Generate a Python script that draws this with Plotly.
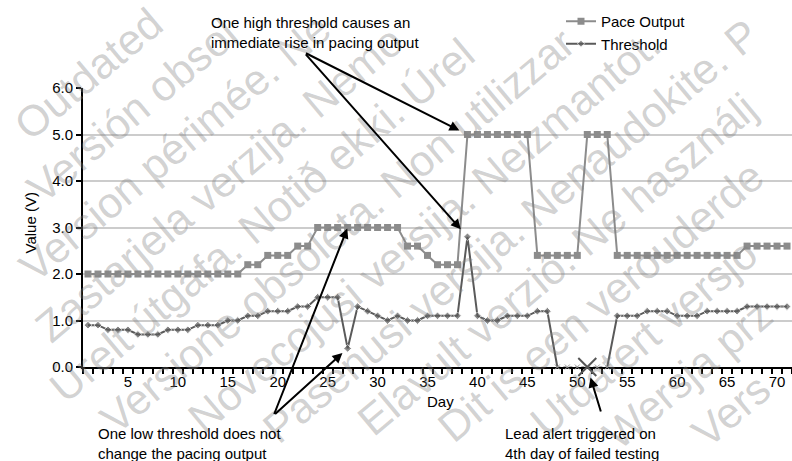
import math
import plotly.graph_objects as go

# days 1..71
days = list(range(1, 72))

pace_output = ([2.0] * 16 + [2.2] * 2 + [2.4] * 3 + [2.6] * 2 + [3.0] * 9 +
               [2.6] * 2 + [2.4] + [2.2] * 3 + [5.0] * 7 + [2.4] * 5 +
               [5.0] * 3 + [2.4] * 13 + [2.6] * 5)

threshold = [0.9, 0.9, 0.8, 0.8, 0.8, 0.7, 0.7, 0.7, 0.8, 0.8,
             0.8, 0.9, 0.9, 0.9, 1.0, 1.0, 1.1, 1.1, 1.2, 1.2,
             1.2, 1.3, 1.3, 1.5, 1.5, 1.5, 0.4, 1.3, 1.2, 1.1,
             1.0, 1.1, 1.0, 1.0, 1.1, 1.1, 1.1, 1.1, 2.8, 1.1,
             1.0, 1.0, 1.1, 1.1, 1.1, 1.2, 1.2, 0.0, 0.0, 0.0,
             0.0, 0.0, 0.0, 1.1, 1.1, 1.1, 1.2, 1.2, 1.2, 1.1,
             1.1, 1.1, 1.2, 1.2, 1.2, 1.2, 1.3, 1.3, 1.3, 1.3,
             1.3]

watermark_lines = [
    "Παλιά έκδοση. Μην την χρησιμοποιείτε.",
    "Outdated version. Do not use.",
    "Versión obsoleta. No utilizar.",
    "Version périmée. Ne pas utiliser.",
    "Zastarjela verzija. Nemojte upotrebljavati.",
    "Úrelt útgáfa. Notið ekki.",
    "Versione obsoleta. Non utilizzare.",
    "Novecojusi versija. Neizmantot.",
    "Pasenusi versija. Nenaudokite.",
    "Elavult verzió. Ne használja!",
    "Dit is een verouderde versie. Niet gebruiken.",
    "Utdatert versjon. Skal ikke brukes.",
    "Wersja przeterminowana. Nie używać.",
    "Versão obsoleta. Não utilize.",
    "Versiune expirată. A nu se utiliza.",
    "Zastaraná verzia. Nepoužívať.",
]

W, H = 792, 461
L, R, T, B = 83, 0, 88, 94
PW, PH = W - L - R, H - T - B
FONT = "Liberation Sans, Arial, sans-serif"
WM_SIZE = 43


def px(x, y):
    # pixel position -> paper coordinates
    return (x - L) / PW, (H - B - y) / PH


failed_days = [d for d, v in zip(days, threshold) if v == 0]
alert_day = failed_days[3]
thr_line = [None if (d in failed_days and d not in (failed_days[0], failed_days[-1])) else v
            for d, v in zip(days, threshold)]
thr_sizes = [0 if v == 0 else 6 for v in threshold]

fig = go.Figure()
fig.add_trace(go.Scatter(
    x=days, y=pace_output, name="Pace Output", mode="lines+markers",
    line=dict(color="#8c8c8c", width=2),
    marker=dict(symbol="square", size=7, color="#8c8c8c"),
))
fig.add_trace(go.Scatter(
    x=days, y=thr_line, name="Threshold", mode="lines+markers",
    line=dict(color="#5a5a5a", width=2),
    marker=dict(symbol="diamond", size=thr_sizes, color="#5a5a5a"),
    connectgaps=False,
))
fig.add_trace(go.Scatter(
    x=failed_days, y=[threshold[d - 1] for d in failed_days], mode="lines+markers",
    line=dict(color="#9a9a9a", width=1.5, dash="dot"),
    marker=dict(symbol="x-thin", size=5, line=dict(color="#9a9a9a", width=1)),
    showlegend=False, cliponaxis=False,
))
fig.add_trace(go.Scatter(
    x=[alert_day], y=[threshold[alert_day - 1]], mode="markers",
    marker=dict(symbol="x-thin", size=18, line=dict(color="#555555", width=2)),
    showlegend=False, cliponaxis=False,
))

ann = []

# watermark: diagonal lines, trimmed so each one stays inside the page
ang = math.radians(40)
k = math.tan(ang)
for i, phrase in enumerate(watermark_lines):
    c = 75 + 73 * i
    x0 = max(0.0, (c - H) / k)
    x1 = min(float(W), c / k)
    seg = (x1 - x0) / math.cos(ang) - 66
    n = int(seg / (0.47 * WM_SIZE))
    if n < 4:
        continue
    txt = ((phrase + " ") * 3)[:n].strip()
    xm = (x0 + x1) / 2
    ym = c - k * xm
    xp, yp = px(xm, ym)
    ann.append(dict(
        text=txt, x=xp, y=yp, xref="paper", yref="paper",
        xanchor="center", yanchor="middle", showarrow=False, textangle=-40,
        font=dict(family=FONT, size=WM_SIZE, color="rgba(128,128,128,0.36)"),
    ))

# arrows
arrows = [
    (39, pace_output[38], -163, -82, 9),
    (39, threshold[38], -163, -184, 10),
    (27, pace_output[26], -74, 188, 1),
    (27, threshold[26], -74, 67, 7),
    (alert_day, threshold[alert_day - 1], 14, 46, 11),
]
for xd, yd, ax, ay, so in arrows:
    ann.append(dict(
        x=xd, y=yd, xref="x", yref="y", ax=ax, ay=ay, text="",
        showarrow=True, arrowhead=2, arrowsize=1, arrowwidth=2,
        arrowcolor="black", standoff=so,
    ))

notes = [
    ("One high threshold causes an<br>immediate rise in pacing output", 209, 12),
    ("One low threshold does not<br>change the pacing output", 96, 423),
    ("Lead alert triggered on<br>4th day of failed testing", 503, 423),
]
for txt, xx, yy in notes:
    xp, yp = px(xx, yy)
    ann.append(dict(
        text=txt, x=xp, y=yp, xref="paper", yref="paper", xanchor="left",
        yanchor="top", align="left", showarrow=False,
        font=dict(family=FONT, size=15, color="black"),
    ))

# axis titles
xp, yp = px(440, 412)
ann.append(dict(text="Day", x=xp, y=yp, xref="paper", yref="paper",
                showarrow=False, font=dict(family=FONT, size=15, color="black")))
xp, yp = px(19, 223)
ann.append(dict(text="Value (V)", x=xp, y=yp, xref="paper", yref="paper",
                showarrow=False, textangle=-90,
                font=dict(family=FONT, size=15, color="black")))

lx, ly = px(561, 5)
fig.update_layout(
    width=W, height=H,
    margin=dict(l=L, r=R, t=T, b=B),
    paper_bgcolor="white", plot_bgcolor="white",
    font=dict(family=FONT, size=15, color="black"),
    showlegend=True,
    legend=dict(x=lx, y=ly, xanchor="left", yanchor="top",
                bgcolor="rgba(0,0,0,0)", font=dict(size=15), itemwidth=30,
                tracegroupgap=0),
    annotations=ann,
)
fig.update_xaxes(
    range=[0.5, 71.5], tickmode="array", tickvals=list(range(5, 71, 5)),
    ticks="", showline=True, linecolor="black", linewidth=2,
    showgrid=False, zeroline=False, layer="below traces",
    minor=dict(ticks="outside", ticklen=5, tickwidth=2, tickcolor="black",
               tick0=0.5, dtick=1, showgrid=False),
    tickfont=dict(size=15),
)
fig.update_yaxes(
    range=[0, 6], dtick=1, tickformat=".1f", ticks="outside", ticklen=5,
    tickwidth=2, tickcolor="black", showline=True, linecolor="black",
    linewidth=2, showgrid=True, gridcolor="#cccccc", gridwidth=2,
    zeroline=False, layer="below traces", tickfont=dict(size=15),
)

# drop the default page margin so the chart sits at the window's corner
fig.write_html("out.html", config={"displayModeBar": False},
               post_script="document.body.style.margin='0';")
